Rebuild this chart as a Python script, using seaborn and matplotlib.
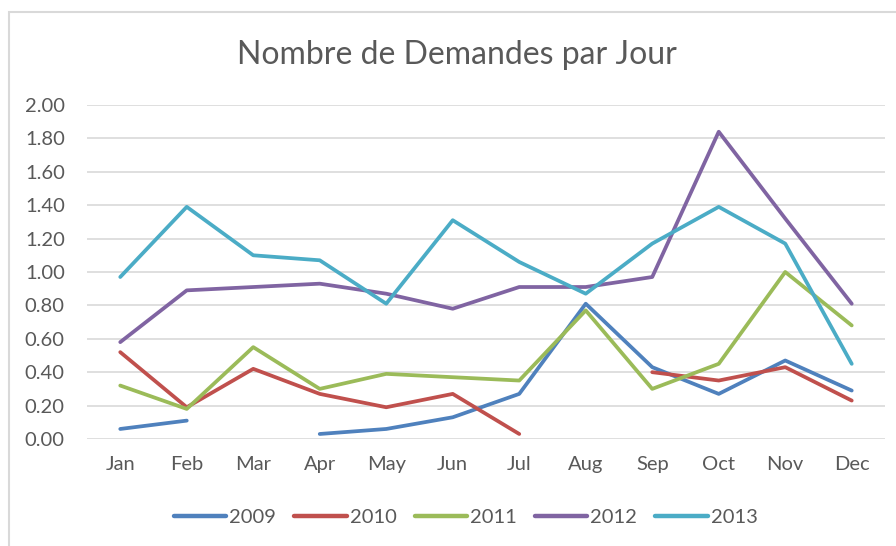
import numpy as np
import pandas as pd
import matplotlib.pyplot as plt
import seaborn as sns
from matplotlib.patches import Rectangle

# month labels and one list per year (NaN = no data)
months = ["Jan", "Feb", "Mar", "Apr", "May", "Jun",
          "Jul", "Aug", "Sep", "Oct", "Nov", "Dec"]
y2009 = [0.06, 0.11, np.nan, 0.03, 0.06, 0.13, 0.27, 0.81, 0.43, 0.27, 0.47, 0.29]
y2010 = [0.52, 0.19, 0.42, 0.27, 0.19, 0.27, 0.03, np.nan, 0.40, 0.35, 0.43, 0.23]
y2011 = [0.32, 0.18, 0.55, 0.30, 0.39, 0.37, 0.35, 0.77, 0.30, 0.45, 1.00, 0.68]
y2012 = [0.58, 0.89, 0.91, 0.93, 0.87, 0.78, 0.91, 0.91, 0.97, 1.84, 1.32, 0.81]
y2013 = [0.97, 1.39, 1.10, 1.07, 0.81, 1.31, 1.06, 0.87, 1.17, 1.39, 1.17, 0.45]
years = ["2009", "2010", "2011", "2012", "2013"]
colors = ["#4F81BD", "#C0504D", "#9BBB59", "#8064A2", "#4BACC6"]

rows = []
for year, vals in zip(years, [y2009, y2010, y2011, y2012, y2013]):
    seg = 0
    for i, v in enumerate(vals):
        if np.isnan(v):
            seg += 1  # break the line where a month is missing
            continue
        rows.append({"month": i, "value": v, "year": year, "seg": f"{year}-{seg}"})
df = pd.DataFrame(rows)

sns.set_style("white")
plt.rcParams["font.family"] = ["Lato", "DejaVu Sans"]
txt = "#595959"

fig = plt.figure(figsize=(8.96, 5.46), dpi=100)
ax = fig.add_axes([0.0971, 0.196, 0.8906, 0.6117])

# chart border like Excel (cropped on the right and bottom)
fig.patches.append(Rectangle((9 / 896, -0.1), 1.2, 1.1 - 12 / 546, transform=fig.transFigure,
                             fill=False, edgecolor="#d9d9d9", linewidth=1.5, zorder=0))

sns.lineplot(data=df, x="month", y="value", hue="year", units="seg", estimator=None,
             palette=dict(zip(years, colors)), linewidth=2.7, sort=False, ax=ax)

ax.set_xlim(-0.5, 11.5)
ax.set_ylim(0, 2.0)
ax.set_yticks(np.arange(0, 2.01, 0.2))
ax.set_yticklabels([f"{v:.2f}" for v in np.arange(0, 2.01, 0.2)])
ax.set_xticks(range(12))
ax.set_xticklabels(months)
ax.yaxis.grid(True, color="#d9d9d9", linewidth=1.2)
ax.set_axisbelow(True)
for s in ax.spines.values():
    s.set_visible(False)
ax.tick_params(length=0, labelsize=14.5, colors=txt)
ax.tick_params(axis="y", pad=16)
ax.tick_params(axis="x", pad=12)
ax.set_xlabel("")
ax.set_ylabel("")

fig.text(0.51, 0.90, "Nombre de Demandes par Jour", ha="center", va="center",
         fontsize=23, color=txt)

leg = ax.legend(loc="center", bbox_to_anchor=(0.52, 0.053), bbox_transform=fig.transFigure,
                ncol=5, frameon=False, fontsize=14.5, handlelength=2.6,
                handletextpad=0.15, columnspacing=0.9)
for t in leg.get_texts():
    t.set_color(txt)
for h in leg.get_lines():
    h.set_linewidth(3.2)
    h.set_solid_capstyle("round")

fig.savefig("out.png", dpi=100)
